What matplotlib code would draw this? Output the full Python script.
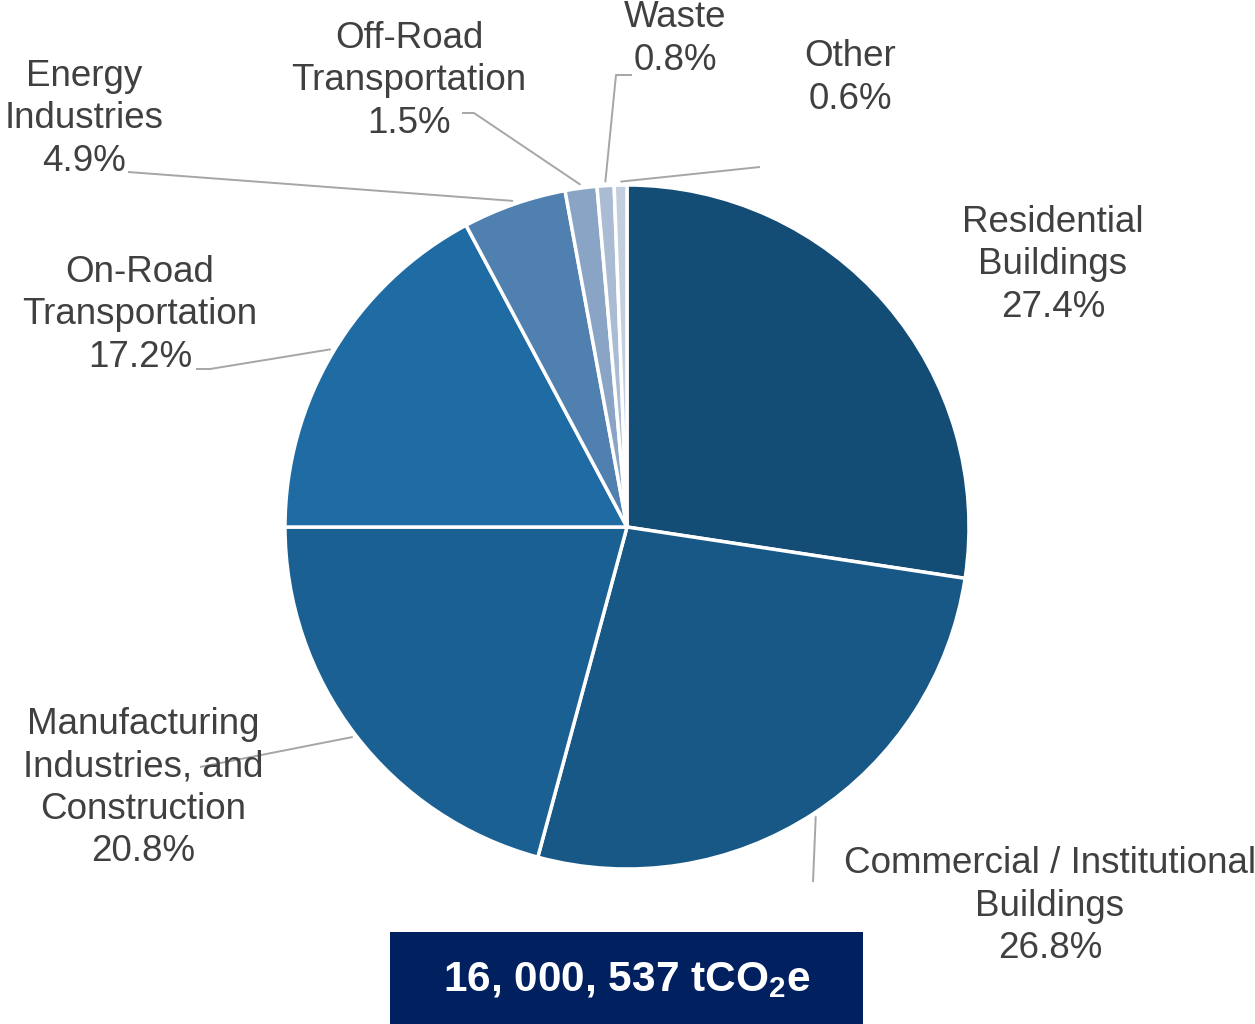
import matplotlib.pyplot as plt
import numpy as np

# data
sectors = ['Residential\nBuildings', 'Commercial / Institutional\nBuildings',
           'Manufacturing\nIndustries, and\nConstruction', 'On-Road\nTransportation',
           'Energy\nIndustries', 'Off-Road\nTransportation', 'Waste', 'Other']
shares = [27.4, 26.8, 20.8, 17.2, 4.9, 1.5, 0.8, 0.6]
colors = ['#134D76', '#175887', '#1A6092', '#1F6BA4', '#4F80B0', '#8AA4C6', '#AABBD4', '#C3CEDF']
total_label = '16, 000, 537 tCO$_\\mathregular{2}$e'

W, H = 1255, 1024
cx, cy, R = 627, H - 527, 342

# label centre and leader line bend/end points (pixels from top-left)
label_pos = [(1053, 265), (1050, 906), (143, 788), (140, 315),
             (84, 119), (409, 81), (675, 39), (850, 78)]
leader_path = [None,
               [(813, 882)],
               [(200, 767)],
               [(210, 369), (196, 369)],
               [(128, 172)],
               [(474, 113), (462, 113)],
               [(616, 75), (632, 75)],
               [(760, 167)]]

plt.rcParams['font.family'] = ['Liberation Sans', 'DejaVu Sans']

fig = plt.figure(figsize=(W / 100, H / 100), dpi=100)
ax = fig.add_axes([0, 0, 1, 1])

wedges, _ = ax.pie(shares, colors=colors, startangle=90, counterclock=False,
                   center=(cx, cy), radius=R,
                   wedgeprops=dict(edgecolor='white', linewidth=2.5))
ax.set_xlim(0, W)
ax.set_ylim(0, H)
ax.set_aspect('equal')
ax.axis('off')

for w, name, val, (lx, ly), path in zip(wedges, sectors, shares, label_pos, leader_path):
    if path is not None:
        ang = np.deg2rad((w.theta1 + w.theta2) / 2)
        xs = [cx + R * 1.01 * np.cos(ang)] + [p[0] for p in path]
        ys = [cy + R * 1.01 * np.sin(ang)] + [H - p[1] for p in path]
        ax.plot(xs, ys, color='#A6A6A6', lw=1.4, solid_capstyle='butt', zorder=1)
    ax.text(lx, H - ly, f'{name}\n{val}%', ha='center', va='center',
            fontsize=26.5, color='#404040', linespacing=1.27, zorder=2)

# total box
ax.add_patch(plt.Rectangle((390, 0), 473, H - 932, facecolor='#012060', edgecolor='none'))
ax.text(627, H - 980, total_label, ha='center', va='center', fontsize=30.5,
        fontweight='bold', color='white')

fig.savefig('out.png', dpi=100)
